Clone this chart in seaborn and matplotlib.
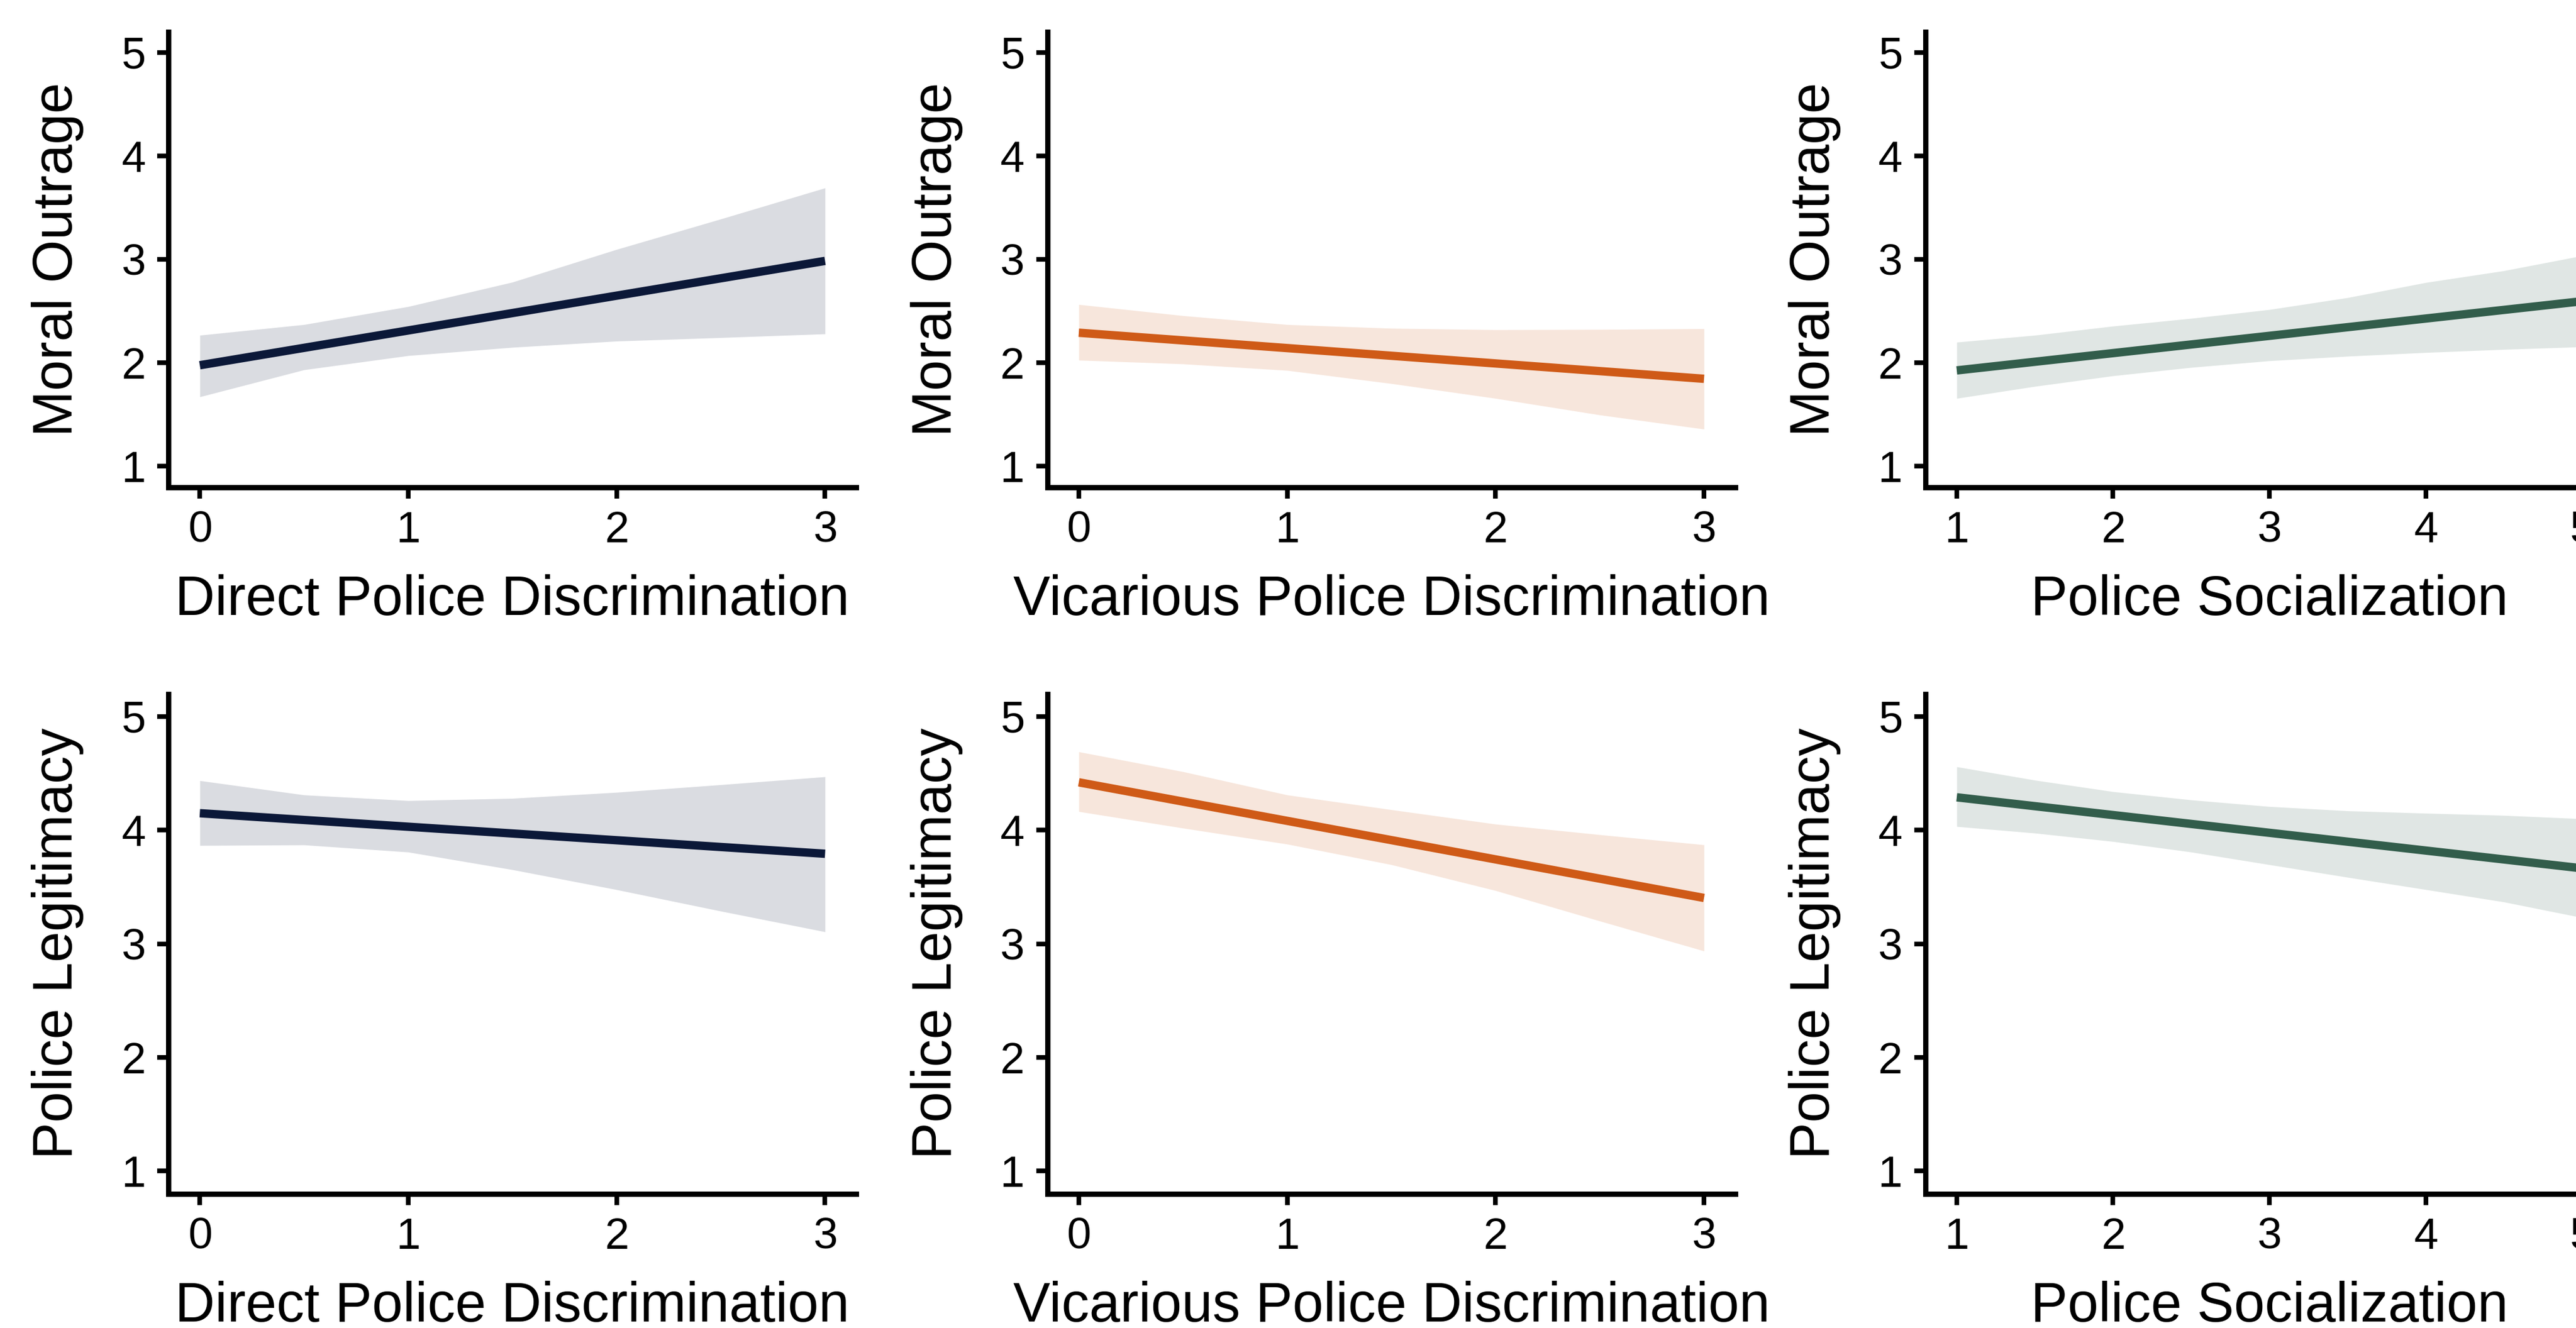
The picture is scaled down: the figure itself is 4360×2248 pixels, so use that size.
import matplotlib
matplotlib.use("Agg")
import matplotlib.pyplot as plt
import numpy as np
import pandas as pd
import seaborn as sns

# ---------------- data ----------------
predictors = ["Direct Police Discrimination",
              "Vicarious Police Discrimination",
              "Police Socialization"]
outcomes = ["Moral Outrage", "Police Legitimacy"]
colors = ["#0b1838", "#cf5a17", "#325d4b"]

x_disc = [0, 0.5, 1, 1.5, 2, 2.5, 3]
x_soc = [1, 1.5, 2, 2.5, 3, 3.5, 4, 4.5, 5]
xticks_disc = [0, 1, 2, 3]
xticks_soc = [1, 2, 3, 4, 5]
yticks = [1, 2, 3, 4, 5]

# fitted lines (end points)
mo_direct_line = [1.977, 2.985]
mo_vic_line = [2.291, 1.846]
mo_soc_line = [1.927, 2.595]
pl_direct_line = [4.149, 3.792]
pl_vic_line = [4.421, 3.403]
pl_soc_line = [4.289, 3.664]

# confidence bands
mo_direct_hi = [2.267, 2.37, 2.544, 2.78, 3.096, 3.39, 3.69]
mo_direct_lo = [1.672, 1.933, 2.07, 2.15, 2.21, 2.244, 2.28]
mo_vic_hi = [2.564, 2.456, 2.37, 2.334, 2.32, 2.323, 2.33]
mo_vic_lo = [2.026, 1.99, 1.927, 1.80, 1.657, 1.497, 1.36]
mo_soc_hi = [2.20, 2.267, 2.355, 2.43, 2.515, 2.63, 2.776, 2.89, 3.035]
mo_soc_lo = [1.657, 1.773, 1.875, 1.956, 2.02, 2.064, 2.10, 2.13, 2.155]
pl_direct_hi = [4.436, 4.31, 4.26, 4.28, 4.333, 4.40, 4.47]
pl_direct_lo = [3.865, 3.87, 3.807, 3.652, 3.476, 3.287, 3.105]
pl_vic_hi = [4.69, 4.515, 4.31, 4.18, 4.053, 3.96, 3.871]
pl_vic_lo = [4.164, 4.018, 3.877, 3.696, 3.468, 3.2, 2.936]
pl_soc_hi = [4.558, 4.44, 4.339, 4.266, 4.208, 4.17, 4.149, 4.13, 4.10]
pl_soc_lo = [4.032, 3.974, 3.90, 3.807, 3.696, 3.585, 3.477, 3.368, 3.23]

panels = [
    # row, col, xgrid, xticks, line, hi, lo
    (0, 0, x_disc, xticks_disc, mo_direct_line, mo_direct_hi, mo_direct_lo),
    (0, 1, x_disc, xticks_disc, mo_vic_line, mo_vic_hi, mo_vic_lo),
    (0, 2, x_soc, xticks_soc, mo_soc_line, mo_soc_hi, mo_soc_lo),
    (1, 0, x_disc, xticks_disc, pl_direct_line, pl_direct_hi, pl_direct_lo),
    (1, 1, x_disc, xticks_disc, pl_vic_line, pl_vic_hi, pl_vic_lo),
    (1, 2, x_soc, xticks_soc, pl_soc_line, pl_soc_hi, pl_soc_lo),
]

# ---------------- style ----------------
sns.set_style("ticks")
plt.rcParams['font.family'] = ['Liberation Sans', 'DejaVu Sans']

W, H, DPI = 4360, 2248, 300
fig = plt.figure(figsize=(W / DPI, H / DPI), dpi=DPI)
fig.patch.set_facecolor("white")

lefts = [285.3, 1773, 3259]
width_px = 1164
row_geom = [(824.5, 771), (2020.5, 846)]  # (bottom px from top, height px)

for row, col, xg, xt, line, hi, lo in panels:
    bot_px, h_px = row_geom[row]
    ax = fig.add_axes([lefts[col] / W, 1 - bot_px / H, width_px / W, h_px / H])
    c = colors[col]
    band = pd.DataFrame({"x": xg, "hi": hi, "lo": lo})
    ax.fill_between(band["x"], band["lo"], band["hi"], color=c, alpha=0.15,
                    linewidth=0, zorder=1)
    ldf = pd.DataFrame({"x": [xg[0], xg[-1]], "y": line})
    sns.lineplot(data=ldf, x="x", y="y", color=c, linewidth=3.4, ax=ax,
                 zorder=2, solid_capstyle="butt")
    lo_x, hi_x = xt[0], xt[-1]
    pad = 0.05 * (hi_x - lo_x)
    ax.set_xlim(lo_x - pad, hi_x + pad)
    ax.set_ylim(0.8, 5.2)
    ax.set_xticks(xt)
    ax.set_yticks(yticks)
    ax.set_xlabel(predictors[col], fontsize=22.5, labelpad=9.5, color="black")
    ax.set_ylabel(outcomes[row], fontsize=22.5, labelpad=15, color="black")
    ax.tick_params(axis="both", length=4.6, width=1.9, pad=4.8,
                   labelsize=17.8, colors="black")
    for s in ["top", "right"]:
        ax.spines[s].set_visible(False)
    for s in ["left", "bottom"]:
        ax.spines[s].set_linewidth(2.16)
        ax.spines[s].set_color("black")
    ax.set_facecolor("white")
    ax.grid(False)

fig.savefig("out.png", dpi=DPI, facecolor="white")
